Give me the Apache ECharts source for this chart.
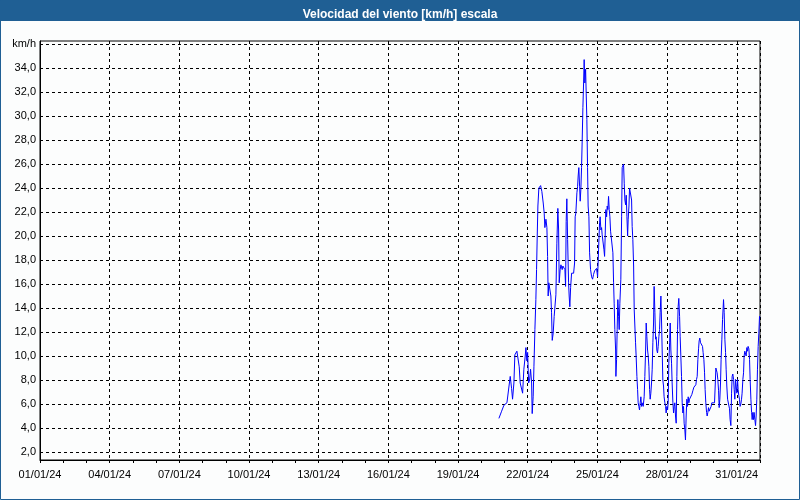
<!DOCTYPE html>
<html>
<head>
<meta charset="utf-8">
<script src="https://cdn.jsdelivr.net/npm/echarts@6/dist/echarts.min.js"></script>
<style>
html,body{margin:0;padding:0;background:#fcfdfd;}
#chart{width:800px;height:500px;}
</style>
</head>
<body>
<div id="chart"></div>
<script>
// Hours since 01/01/24 00:00
var hours = [
474.2,477.0,479.4,482.5,484.5,485.9,487.3,488.3,489.7,490.7,492.8,493.8,495.2,496.2,498.7,500.0,501.4,502.1,503.1,503.9,
504.9,505.9,506.9,508.0,508.6,509.6,510.4,511.4,512.4,513.1,513.8,514.5,515.5,517.3,518.6,520.0,521.0,521.7,522.8,523.8,
524.5,525.1,525.8,526.9,527.9,528.6,529.3,530.3,531.3,
533.1,534.1,535.1,535.9,536.5,537.5,538.3,539.0,539.6,540.3,541.3,542.4,543.1,543.7,544.4,545.2,546.2,546.8,547.5,548.3,
549.3,550.3,551.4,552.4,553.0,553.7,554.8,555.5,556.1,556.8,557.6,558.2,558.9,559.6,560.2,561.0,561.7,562.3,563.0,563.8,
564.4,565.1,565.8,566.4,567.2,567.9,568.9,570.0,571.0,572.0,573.1,574.1,575.1,576.2,577.2,578.2,578.8,579.6,580.3,580.9,
582.0,582.7,583.4,584.0,584.7,585.5,586.1,586.8,587.5,588.2,588.9,589.6,590.6,591.3,592.0,592.7,593.3,594.0,594.8,595.1,
595.8,596.4,597.1,597.9,598.5,599.2,
600.2,601.0,601.6,602.3,603.0,603.7,604.4,605.1,605.8,606.5,607.2,607.8,608.6,609.2,609.8,610.6,611.3,611.9,612.6,613.4,
614.0,614.7,615.4,616.0,616.8,617.5,618.1,618.8,619.5,620.2,620.9,621.6,622.2,623.3,624.3,625.0,625.8,626.4,627.1,627.8,
628.5,629.2,629.9,630.5,631.2,631.9,632.6,633.3,634.0,634.6,635.4,636.1,636.7,637.4,638.1,638.8,639.5,640.2,640.8,641.6,
642.3,642.9,643.6,644.3,644.9,645.7,646.4,647.0,647.8,648.5,649.1,649.8,650.6,651.2,651.9,652.6,653.2,654.0,654.7,655.3,
656.0,656.7,657.4,658.1,658.8,659.4,660.1,660.9,661.5,662.2,662.9,663.6,664.3,665.0,665.6,666.3,667.0,667.7,668.4,669.1,
669.8,670.5,671.2,
672.6,673.6,674.6,675.7,676.7,677.7,678.4,679.1,679.8,680.5,681.1,681.8,682.6,683.2,683.9,684.6,685.2,686.0,686.7,687.3,
688.0,688.8,689.4,690.1,690.8,691.4,692.2,692.9,693.5,694.2,695.0,695.6,696.3,697.0,697.7,698.4,699.1,699.7,700.4,701.2,
701.8,702.5,703.2,703.8,704.6,705.3,705.9,706.3,707.0,707.7,708.4,709.0,709.7,710.5,711.1,711.8,712.5,713.1,713.9,714.6,
715.2,715.9,716.7,717.3,718.0,718.7,719.3,720.1,720.8,721.4,722.1,722.8,723.4,724.2,724.9,725.5,726.3,727.0,727.6,728.3,
729.1,729.7,730.4,731.1,731.7,732.5,733.2,733.8,734.6,735.3,735.9,736.6,737.3,737.9,738.7,739.4,740.0,740.7,741.4,742.1,
742.8,743.5,743.8
];
// Wind speed, km/h
var speed = [
4.8,5.4,5.9,6.1,6.2,8.3,7.3,6.4,7.75,10.1,10.4,10.5,9.1,7.75,6.9,8.9,10.0,10.7,9.6,10.3,
7.75,8.0,8.9,7.75,5.2,6.6,9.1,12.2,14.7,17.2,20.0,22.5,24.0,24.2,23.7,22.75,21.9,20.7,21.4,20.7,
18.3,15.0,16.1,16.2,15.0,13.6,11.3,11.9,13.3,
15.1,19.4,22.3,20.5,16.1,17.2,17.6,17.5,17.2,17.5,17.6,17.2,15.8,21.2,23.1,19.7,16.1,15.0,14.1,15.7,
16.9,16.9,16.9,17.75,21.6,21.9,23.6,24.1,25.0,25.7,24.1,22.9,23.9,25.7,27.75,30.7,32.75,34.7,32.75,33.9,
31.9,29.7,25.7,22.5,21.6,18.6,17.2,16.6,16.4,16.8,17.1,17.2,17.3,16.6,18.9,21.1,21.6,20.5,20.7,20.1,
20.0,18.9,18.3,20.0,22.2,21.6,22.5,22.2,23.3,22.2,21.6,20.4,20.4,20.25,18.6,16.1,14.4,12.2,10.5,8.3,
9.7,12.2,14.7,13.3,12.2,14.4,
16.4,21.6,25.7,25.8,26.0,24.4,23.0,22.6,23.4,21.6,20.0,21.4,22.5,24.0,24.1,23.9,23.0,20.8,19.7,17.5,
13.9,12.5,11.1,10.0,8.3,7.2,6.1,5.8,5.5,6.1,6.6,5.8,6.1,5.8,6.6,8.3,10.5,12.75,11.6,10.5,
10.0,9.1,7.2,6.4,6.9,7.75,8.9,11.1,12.75,15.8,13.6,11.4,11.6,10.5,10.25,10.8,11.6,12.2,13.6,15.0,
12.75,10.5,8.0,7.5,6.6,6.1,5.8,5.25,5.8,5.5,6.1,9.4,11.1,12.75,10.5,9.4,7.75,6.1,5.25,5.8,
6.1,5.0,4.4,8.3,12.2,14.1,14.8,13.3,11.6,10.0,8.3,6.1,5.25,5.8,4.4,3.9,3.0,5.0,6.4,5.8,
6.6,6.1,6.4,
6.4,6.8,7.1,7.4,7.5,7.6,8.05,8.3,9.7,10.6,11.25,11.5,11.1,11.25,11.0,10.8,10.3,9.7,8.6,7.2,
6.1,5.3,5.0,5.3,5.7,5.4,5.4,5.3,5.8,6.1,6.1,6.05,6.05,6.1,7.5,9.0,9.1,8.6,8.05,7.1,
5.7,6.4,7.75,9.7,11.4,13.05,14.0,14.7,13.6,11.4,10.3,8.9,7.5,6.4,6.4,6.4,5.6,4.7,4.2,6.9,
8.3,8.5,8.05,7.2,6.4,8.05,7.5,6.9,8.05,7.2,6.7,6.4,5.8,6.0,6.4,6.9,8.05,8.6,10.0,10.4,
10.3,10.0,10.7,10.4,10.8,10.6,9.7,8.05,6.4,5.3,4.7,5.3,4.7,5.3,4.7,4.2,5.0,6.4,8.9,10.8,
11.9,13.3,13.2
];
var titleText = 'Velocidad del viento [km/h] escala';
var unitLabel = 'km/h';

var points = hours.map(function (h, i) { return [h, speed[i]]; });
function pad(n){ return (n < 10 ? '0' : '') + n; }
var FONT = 'Liberation Sans';
var chart = echarts.init(document.getElementById('chart'), null, {renderer: 'canvas'});
chart.setOption({
  animation: false,
  backgroundColor: '#fcfdfd',
  title: {
    text: titleText, left: 'center', top: 4,
    textStyle: {color: '#ffffff', fontSize: 12, fontWeight: 'bold', fontFamily: FONT}
  },
  graphic: [
    {type: 'rect', z: -1, shape: {x: 0, y: 0, width: 800, height: 21}, style: {fill: '#1f5f94'}},
    {type: 'rect', z: -1, shape: {x: 0.5, y: 0.5, width: 799, height: 499}, style: {fill: null, stroke: '#1f5f94', lineWidth: 1}}
  ],
  grid: [
    {left: 40, right: 40, top: 41, bottom: 40, show: true, borderColor: '#000', borderWidth: 1, backgroundColor: 'transparent'},
    {left: 40, right: 40, top: 44, bottom: 48}
  ],
  xAxis: [
    {
      type: 'value', gridIndex: 0, position: 'bottom', min: 0, max: 744, interval: 72,
      axisLine: {show: true, lineStyle: {color: '#000', width: 1}},
      axisTick: {show: false},
      splitLine: {show: true, lineStyle: {color: '#000', type: [3, 3], width: 1}},
      axisLabel: {
        show: true, showMaxLabel: false, margin: 9, color: '#000', fontSize: 11, fontFamily: FONT,
        formatter: function (v) { return pad(Math.round(v / 24) + 1) + '/01/24'; }
      }
    },
    {
      type: 'value', gridIndex: 0, position: 'bottom', min: 0, max: 744, interval: 24,
      axisLine: {show: false}, axisLabel: {show: false}, splitLine: {show: false},
      axisTick: {show: true, length: 3, lineStyle: {color: '#000'}}
    },
    {
      type: 'value', gridIndex: 1, min: 0, max: 744, show: false
    }
  ],
  yAxis: [
    {
      type: 'value', gridIndex: 0, min: 0, max: 10, show: true,
      axisLine: {show: true, lineStyle: {color: '#000'}}, axisTick: {show: false},
      axisLabel: {show: false}, splitLine: {show: false}
    },
    {
      type: 'value', gridIndex: 1, min: 2, max: 36, interval: 2,
      axisLine: {show: false}, axisTick: {show: false},
      splitLine: {show: true, lineStyle: {color: '#000', type: [3, 3], width: 1}},
      axisLabel: {
        margin: 4, color: '#000', fontSize: 11, fontFamily: FONT,
        formatter: function (v) { return v === 36 ? unitLabel : v.toFixed(1).replace('.', ','); }
      }
    }
  ],
  series: [{
    type: 'line', xAxisIndex: 2, yAxisIndex: 1, data: points,
    showSymbol: false, symbol: 'none',
    lineStyle: {color: '#0000ff', width: 1},
    clip: true
  }]
});
</script>
</body>
</html>
